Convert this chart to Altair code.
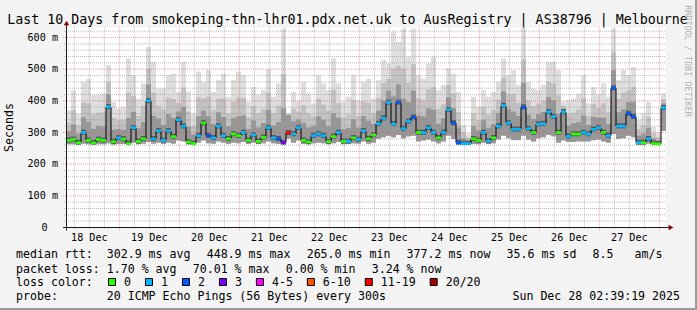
import altair as alt
import pandas as pd

# ---------------- data ----------------
START_OFFSET_H = 2 + 39 / 60 + 19 / 3600   # graph starts Dec 18 02:39:19
BIN_H = 2                                  # consolidated step (hours)
SPAN_H = 240                               # 10 days
Y_TOP = 631.6                              # top of the value axis (ms)

median_ms = [
    275, 278, 268, 300, 275, 267, 278, 275, 381, 271,
    283, 279, 265, 315, 272, 280, 400, 280, 305, 275,
    305, 287, 340, 320, 270, 265, 290, 330, 290, 283,
    320, 290, 280, 295, 290, 300, 275, 292, 272, 285,
    315, 283, 280, 268, 299, 295, 315, 275, 270, 290,
    295, 290, 271, 287, 300, 272, 272, 283, 278, 305,
    280, 292, 328, 345, 395, 327, 395, 312, 335, 348,
    300, 300, 315, 300, 283, 300, 372, 330, 268, 265,
    265, 280, 275, 300, 273, 283, 320, 385, 330, 310,
    310, 380, 312, 300, 326, 328, 365, 350, 300, 365,
    288, 295, 295, 300, 295, 310, 315, 300, 290, 440,
    320, 320, 360, 350, 268, 268, 280, 265, 264, 378,
]
max_ms = [
    370, 433, 360, 460, 470, 418, 420, 423, 513, 397,
    376, 380, 534, 481, 407, 455, 570, 523, 439, 439,
    481, 486, 428, 523, 430, 360, 492, 460, 497, 428,
    465, 486, 413, 465, 492, 481, 397, 444, 418, 434,
    500, 413, 455, 628, 360, 428, 400, 460, 423, 392,
    481, 455, 434, 534, 455, 397, 413, 481, 402, 460,
    470, 407, 465, 530, 518, 618, 586, 628, 539, 628,
    481, 470, 518, 539, 434, 450, 502, 486, 428, 323,
    297, 413, 381, 434, 413, 428, 460, 534, 481, 497,
    450, 630, 460, 439, 434, 450, 523, 523, 497, 397,
    402, 407, 423, 481, 392, 444, 420, 455, 413, 628,
    465, 497, 481, 507, 340, 360, 397, 318, 300, 423,
]
upper_mid_ms = [
    332, 371, 323, 396, 392, 358, 363, 364, 460, 347,
    339, 340, 426, 415, 353, 385, 502, 426, 385, 373,
    411, 406, 393, 442, 366, 322, 411, 408, 414, 370,
    407, 408, 360, 397, 411, 409, 348, 383, 360, 374,
    426, 361, 385, 484, 360, 375, 366, 386, 362, 351,
    407, 389, 369, 435, 393, 347, 357, 402, 352, 398,
    394, 361, 410, 456, 469, 502, 510, 502, 457, 516,
    409, 402, 437, 443, 374, 390, 450, 424, 364, 300,
    284, 360, 339, 380, 357, 370, 404, 474, 421, 422,
    394, 531, 401, 383, 391, 401, 460, 454, 418, 384,
    356, 362, 372, 409, 353, 390, 378, 393, 364, 553,
    407, 426, 433, 444, 311, 323, 350, 297, 286, 405,
]
upper_dark_ms = [
    304, 325, 296, 348, 334, 312, 321, 319, 421, 309,
    311, 309, 346, 365, 313, 333, 451, 353, 345, 324,
    358, 347, 366, 381, 318, 294, 351, 369, 352, 327,
    364, 349, 320, 346, 351, 354, 312, 338, 316, 330,
    371, 322, 333, 376, 355, 335, 341, 331, 316, 321,
    351, 340, 320, 361, 347, 310, 314, 342, 315, 352,
    337, 327, 369, 401, 432, 414, 452, 407, 396, 432,
    354, 351, 376, 372, 328, 345, 411, 377, 316, 282,
    275, 320, 307, 340, 315, 327, 362, 430, 375, 366,
    352, 456, 356, 342, 358, 365, 412, 402, 359, 375,
    322, 329, 333, 354, 324, 350, 347, 347, 327, 496,
    364, 373, 396, 397, 290, 296, 315, 281, 275, 392,
]
low_ms = [
    263, 263, 262, 265, 263, 262, 263, 263, 266, 262,
    264, 264, 262, 268, 263, 265, 270, 265, 268, 264,
    268, 265, 275, 272, 263, 262, 268, 275, 266, 265,
    272, 268, 264, 268, 266, 270, 264, 268, 264, 266,
    272, 266, 264, 262, 281, 268, 275, 264, 263, 266,
    268, 266, 263, 266, 270, 263, 264, 266, 265, 272,
    265, 268, 280, 285, 290, 285, 292, 282, 288, 290,
    272, 275, 278, 272, 266, 272, 290, 280, 262, 262,
    262, 264, 263, 268, 264, 266, 278, 290, 282, 276,
    276, 290, 278, 272, 282, 285, 292, 288, 268, 275,
    270, 270, 272, 272, 272, 276, 278, 272, 268, 295,
    280, 282, 290, 285, 262, 262, 265, 262, 262, 305,
]
lost_pings = [
    0, 0, 0, 1, 0, 0, 0, 0, 1, 0,
    1, 0, 0, 1, 0, 0, 1, 1, 1, 1,
    1, 0, 1, 1, 0, 0, 1, 0, 2, 1,
    1, 1, 0, 0, 0, 1, 0, 1, 0, 0,
    1, 1, 2, 3, 12, 1, 1, 0, 0, 1,
    1, 1, 0, 0, 1, 0, 1, 0, 1, 1,
    0, 0, 1, 1, 1, 1, 2, 1, 1, 2,
    0, 1, 1, 1, 0, 1, 1, 2, 2, 1,
    1, 0, 0, 1, 1, 0, 1, 1, 1, 1,
    1, 2, 1, 0, 1, 1, 1, 1, 0, 1,
    1, 0, 0, 1, 1, 1, 1, 0, 1, 2,
    1, 1, 2, 2, 1, 0, 1, 0, 0, 1,
]

loss_labels = ["0", "1", "2", "3", "4-5", "6-10", "11-19", "20/20"]
loss_colors = ["#26ff00", "#00b8ff", "#0059ff", "#7e00ff",
               "#ff00ff", "#ff5500", "#ff0000", "#a00000"]

day_labels = ["18 Dec", "19 Dec", "20 Dec", "21 Dec", "22 Dec",
              "23 Dec", "24 Dec", "25 Dec", "26 Dec", "27 Dec"]
y_ticks = [100, 200, 300, 400, 500, 600]

title_text = ("Last 10 Days from smokeping-thn-lhr01.pdx.net.uk to "
              "AusRegistry | AS38796 | Melbourne")
rtt_items = ["median rtt:  302.9 ms avg", "448.9 ms max", "265.0 ms min",
             "377.2 ms now", "35.6 ms sd", "8.5   am/s"]
loss_items = ["packet loss: 1.70 % avg", "70.01 % max", "0.00 % min", "3.24 % now"]
probe_text = "probe:       20 ICMP Echo Pings (56 Bytes) every 300s"
stamp_text = "Sun Dec 28 02:39:19 2025"

# ---------------- layout ----------------
W, H = 600, 200
PAD_L, PAD_T = 66, 27.5
FONT = "DejaVu Sans Mono"
CW = 6.98          # legend character advance
GAP = 16.2         # gap between legend items


def loss_cat(n):
    if n <= 3:
        return str(n)
    if n <= 5:
        return "4-5"
    if n <= 10:
        return "6-10"
    if n < 20:
        return "11-19"
    return "20/20"


n = len(median_ms)
t0 = [i * BIN_H for i in range(n)]
df = pd.DataFrame({
    "t0": t0,
    "t1": [t + BIN_H for t in t0],
    "med": median_ms,
    "hi": max_ms,
    "mid": upper_mid_ms,
    "dark": upper_dark_ms,
    "lo": low_ms,
    "loss": [loss_cat(v) for v in lost_pings],
})
line_df = pd.DataFrame({"t": t0 + [SPAN_H], "med": median_ms + [median_ms[-1]]})

xs = alt.Scale(domain=[0, SPAN_H], nice=False, zero=False)
ys = alt.Scale(domain=[0, Y_TOP], nice=False, zero=False)

base = alt.Chart(df)
X = alt.X("t0:Q", scale=xs, axis=None)


def band(lo_field, hi_field, color):
    return base.mark_rect(color=color, strokeWidth=0).encode(
        x=X, x2="t1:Q",
        y=alt.Y(f"{lo_field}:Q", scale=ys, axis=None), y2=f"{hi_field}:Q")


layers = [
    band("lo", "hi", "#dedede"),
    band("lo", "mid", "#c2c2c2"),
    band("lo", "dark", "#979797"),
    base.transform_calculate(c0="max(datum.lo, datum.med - 7)", c1="datum.med + 9")
        .mark_rect(color="#595959", strokeWidth=0)
        .encode(x=X, x2="t1:Q", y=alt.Y("c0:Q", scale=ys, axis=None), y2="c1:Q"),
]

# grid
midnights = [(d - 18) * 24 - START_OFFSET_H for d in range(19, 29)]
midnights = [h for h in midnights if 0 < h < SPAN_H]
six_h = [-START_OFFSET_H + 6 * k for k in range(1, 42) if k % 4]
six_h = [h for h in six_h if 0 < h < SPAN_H]
noons = [(d - 18) * 24 + 12 - START_OFFSET_H for d in range(18, 28)]

minor_h = pd.DataFrame({"v": [v for v in range(20, 640, 20) if v % 100 and v < Y_TOP]})
major_h = pd.DataFrame({"v": y_ticks})
GRID = dict(color="#8f8f8f", opacity=0.6, strokeDash=[1, 1], strokeWidth=1)
MGRID = dict(color="#e06060", opacity=0.6, strokeDash=[1, 1], strokeWidth=1)

layers += [
    alt.Chart(minor_h).mark_rule(**GRID).encode(
        y=alt.Y("v:Q", scale=ys, axis=None), x=alt.value(-2), x2=alt.value(W)),
    alt.Chart(pd.DataFrame({"h": six_h})).mark_rule(**GRID).encode(
        x=alt.X("h:Q", scale=xs, axis=None), y=alt.value(0), y2=alt.value(H + 2)),
    alt.Chart(major_h).mark_rule(**MGRID).encode(
        y=alt.Y("v:Q", scale=ys, axis=None), x=alt.value(-3), x2=alt.value(W)),
    alt.Chart(pd.DataFrame({"h": midnights})).mark_rule(**MGRID).encode(
        x=alt.X("h:Q", scale=xs, axis=None), y=alt.value(0), y2=alt.value(H + 3)),
]

# median line + loss colour markers
layers += [
    alt.Chart(line_df).mark_line(interpolate="step-after", color="#000000",
                                 strokeWidth=1).encode(
        x=alt.X("t:Q", scale=xs, axis=None), y=alt.Y("med:Q", scale=ys, axis=None)),
    base.transform_calculate(m0="datum.med - 4.3", m1="datum.med + 4.3")
        .mark_rect(strokeWidth=0)
        .encode(x=X, x2="t1:Q", y=alt.Y("m0:Q", scale=ys, axis=None), y2="m1:Q",
                color=alt.Color("loss:N", scale=alt.Scale(domain=loss_labels,
                                                          range=loss_colors),
                                legend=None)),
]

# axes
AXIS = "#1a1a1a"
ARROW = "#800000"
one = pd.DataFrame({"a": [0]})
layers += [
    alt.Chart(one).mark_rule(color=AXIS, strokeWidth=1).encode(
        x=alt.value(-3), x2=alt.value(W + 3), y=alt.value(H)),
    alt.Chart(one).mark_rule(color=AXIS, strokeWidth=1).encode(
        x=alt.value(0.5), y=alt.value(H + 3), y2=alt.value(-4)),
    alt.Chart(one).mark_point(shape="triangle-up", filled=True, size=30, color=ARROW,
                              opacity=1).encode(x=alt.value(0.5), y=alt.value(-4.5)),
    alt.Chart(one).mark_point(shape="triangle-right", filled=True, size=30, color=ARROW,
                              opacity=1).encode(x=alt.value(W + 5), y=alt.value(H)),
]

# axis labels
layers += [
    alt.Chart(major_h.assign(lab=[f"{v}\u00a0m" for v in y_ticks]))
        .mark_text(font=FONT, fontSize=10.15, align="right", baseline="middle",
                   color="black")
        .encode(y=alt.Y("v:Q", scale=ys, axis=None), x=alt.value(-8), text="lab:N"),
    alt.Chart(one).mark_text(text="0", font=FONT, fontSize=10.15, align="right",
                             baseline="middle", color="black")
        .encode(x=alt.value(-18.5), y=alt.value(H)),
    alt.Chart(pd.DataFrame({"h": noons, "lab": day_labels}))
        .mark_text(font=FONT, fontSize=10.15, align="center", baseline="middle",
                   color="black")
        .encode(x=alt.X("h:Q", scale=xs, axis=None), y=alt.value(210), text="lab:N"),
]


def txt(s, x, y, size=11.6, align="left", baseline="alphabetic", angle=0,
        color="black"):
    return alt.Chart(one).mark_text(
        text=s.replace(" ", "\u00a0"), font=FONT, fontSize=size, align=align,
        baseline=baseline, angle=angle, color=color
    ).encode(x=alt.value(x), y=alt.value(y))


def ax(px):
    return px - PAD_L


def ay(py):
    return py - PAD_T


layers.append(txt(title_text, ax(347.5), ay(24), size=13.3, align="center"))
layers.append(txt("Seconds", ax(9.5), ay(127.5), align="center", baseline="middle",
                  angle=270))
layers.append(txt("RRDTOOL / TOBI OETIKER", ax(687.5), ay(61), size=8.45,
                  align="center", baseline="middle", angle=90, color="#b4b4b4"))

for items, base_y in ((rtt_items, 258.3), (loss_items, 272.5)):
    px = 16.0
    for s in items:
        layers.append(txt(s, ax(px), ay(base_y)))
        px += len(s) * CW + GAP
layers.append(txt(probe_text, ax(16), ay(300)))
layers.append(txt("loss color:", ax(16), ay(286)))
layers.append(txt(stamp_text, ax(680), ay(300), align="right"))

# loss colour legend boxes
tx = 124.0
for lab, colr in zip(loss_labels, loss_colors):
    layers.append(alt.Chart(one).mark_rect(color=colr, stroke="black", strokeWidth=1)
                  .encode(x=alt.value(ax(tx - 15.5)), x2=alt.value(ax(tx - 8.5)),
                          y=alt.value(ay(278.5)), y2=alt.value(ay(285.5))))
    layers.append(txt(lab, ax(tx), ay(286)))
    tx += CW * len(lab) + 30

# frame shading
layers += [
    alt.Chart(one).mark_rule(color="#9a9a9a", strokeWidth=2).encode(
        x=alt.value(ax(696)), y=alt.value(ay(0)), y2=alt.value(ay(310))),
    alt.Chart(one).mark_rule(color="#9a9a9a", strokeWidth=2).encode(
        x=alt.value(ax(0)), x2=alt.value(ax(697)), y=alt.value(ay(309))),
]

chart = alt.layer(*layers).properties(
    width=W, height=H,
    padding={"left": PAD_L, "top": PAD_T, "right": 697 - PAD_L - W,
             "bottom": 310 - PAD_T - H},
    autosize=alt.AutoSizeParams(type="none"),
    background="#f3f3f3",
).configure_view(fill="white", strokeWidth=0)

chart.save("out.html", embed_options={"renderer": "svg", "actions": False})
